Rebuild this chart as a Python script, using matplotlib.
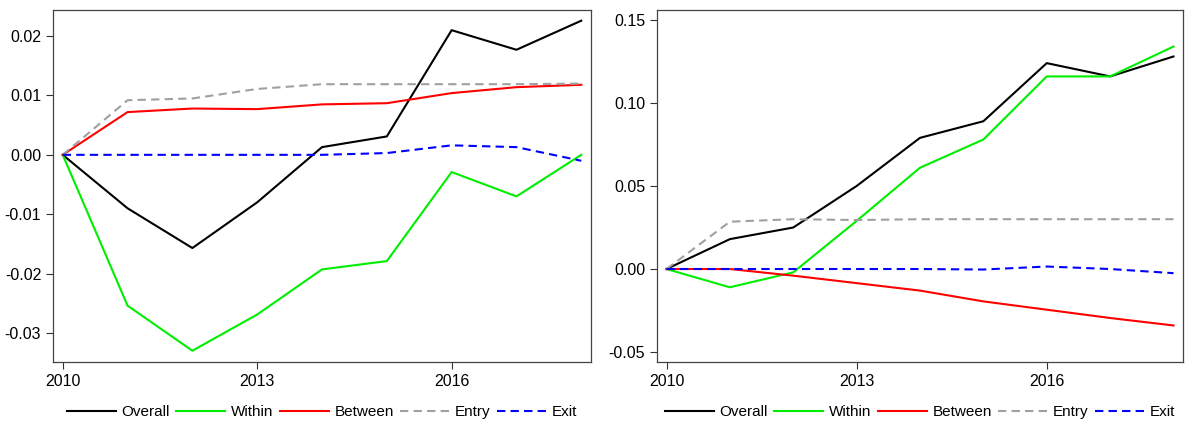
import matplotlib
matplotlib.use("Agg")
from matplotlib import pyplot as plt

plt.rcParams['font.family'] = ['Liberation Sans', 'DejaVu Sans']

years = [2010, 2011, 2012, 2013, 2014, 2015, 2016, 2017, 2018]
xticks = [2010, 2013, 2016]

# left panel
left_overall = [0, -0.0090, -0.0157, -0.0080, 0.0013, 0.0031, 0.0210, 0.0177, 0.0226]
left_within = [0, -0.0254, -0.0330, -0.0269, -0.0193, -0.0179, -0.0029, -0.0070, 0.0000]
left_between = [0, 0.0072, 0.0078, 0.0077, 0.0085, 0.0087, 0.0104, 0.0114, 0.0118]
left_entry = [0, 0.0092, 0.0095, 0.0111, 0.0119, 0.0119, 0.0119, 0.0119, 0.0120]
left_exit = [0, 0.0000, 0.0000, 0.0000, 0.0000, 0.0003, 0.0016, 0.0013, -0.0010]
left_yticks = [-0.03, -0.02, -0.01, 0.00, 0.01, 0.02]

# right panel
right_overall = [0, 0.018, 0.025, 0.050, 0.079, 0.089, 0.124, 0.116, 0.128]
right_within = [0, -0.011, -0.002, 0.029, 0.061, 0.078, 0.116, 0.116, 0.134]
right_between = [0, 0.000, -0.004, -0.0085, -0.013, -0.0195, -0.0245, -0.0295, -0.034]
right_entry = [0, 0.0285, 0.030, 0.0295, 0.030, 0.030, 0.030, 0.030, 0.030]
right_exit = [0, 0.000, 0.000, 0.000, 0.000, -0.0003, 0.0015, 0.000, -0.0025]
right_yticks = [-0.05, 0.00, 0.05, 0.10, 0.15]

labels = ['Overall', 'Within', 'Between', 'Entry', 'Exit']
colors = ['black', '#00ee00', 'red', '#a0a0a0', 'blue']
styles = ['-', '-', '-', (0, (4, 2.5)), (0, (4, 2.5))]


def draw(ax, series, yticks, ylim):
    for vals, lab, col, ls in zip(series, labels, colors, styles):
        ax.plot(years, vals, color=col, linestyle=ls, linewidth=1.5, label=lab)
    ax.set_xlim(2009.85, 2018.15)
    ax.set_ylim(*ylim)
    ax.set_xticks(xticks)
    ax.set_xticklabels([str(t) for t in xticks])
    ax.set_yticks(yticks)
    ax.set_yticklabels(['%.2f' % t for t in yticks])
    ax.tick_params(direction='out', length=5, width=0.8, color='#333333', labelsize=11.5)
    for sp in ax.spines.values():
        sp.set_color('#444444')
        sp.set_linewidth(0.9)
    ax.legend(loc='center', bbox_to_anchor=(0.5, -0.143), ncol=5, frameon=False,
              fontsize=11, handlelength=3.2, handletextpad=0.4, columnspacing=0.4,
              borderpad=0.1)


fig = plt.figure(figsize=(11.89, 4.23), dpi=100)
ax1 = fig.add_axes([53 / 1189, 61 / 423, 538 / 1189, 352 / 423])
ax2 = fig.add_axes([657 / 1189, 61 / 423, 526 / 1189, 352 / 423])

draw(ax1, [left_overall, left_within, left_between, left_entry, left_exit], left_yticks, (-0.0349, 0.0244))
draw(ax2, [right_overall, right_within, right_between, right_entry, right_exit], right_yticks, (-0.056, 0.156))

fig.savefig('out.png', dpi=100)
